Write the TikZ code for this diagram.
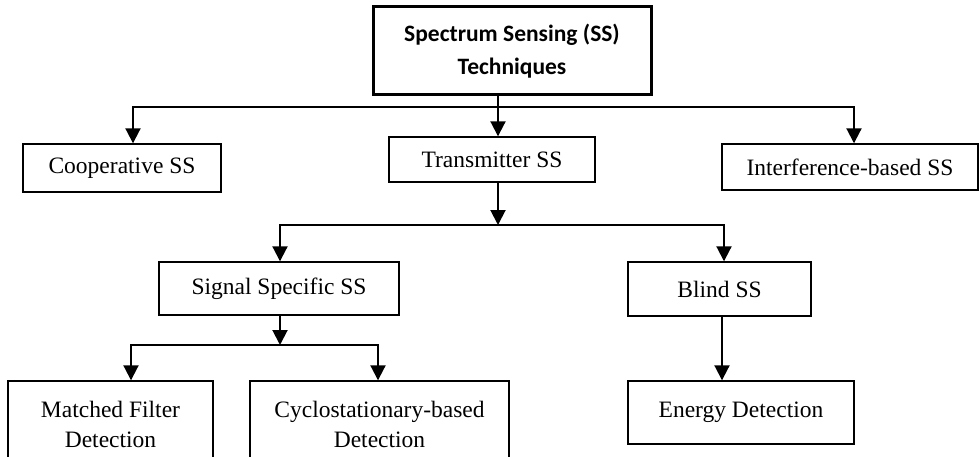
\documentclass[tikz,border=0pt]{standalone}
\usepackage{fontspec}
\setmainfont{Liberation Serif}
\newfontfamily\calfont{Carlito}
\usetikzlibrary{arrows.meta}
\tikzset{
  box/.style={draw, line width=1.4pt, inner sep=0pt, align=center, font=\fontsize{23.5}{30}\selectfont},
  topbox/.style={draw, line width=3pt, inner sep=0pt, align=center, font=\calfont\bfseries\fontsize{23.5}{33}\selectfont},
  arr/.style={line width=2pt, -{Triangle[length=15pt,width=15pt]}},
}
\begin{document}
\begin{tikzpicture}[x=1pt,y=-1pt]
\clip (0,0) rectangle (979,457);
\useasboundingbox (0,0) rectangle (979,457);
% nodes
\node[topbox, minimum width=278pt, minimum height=88pt] (top) at (512,51) {Spectrum Sensing (SS)\\Techniques};
\node[box, minimum width=198pt, minimum height=48pt] (coop) at (122,168) {Cooperative SS};
\node[box, minimum width=206pt, minimum height=45pt] (tr) at (492,159.5) {Transmitter SS};
\node[box, minimum width=256pt, minimum height=46pt] (intf) at (850,167) {Interference-based SS};
\node[box, minimum width=240pt, minimum height=53pt] (sig) at (279,288.5) {Signal Specific SS};
\node[box, minimum width=183pt, minimum height=54pt] (blind) at (719.5,289) {Blind SS};
\node[box, minimum width=205pt, minimum height=86pt] (mf) at (110.5,424) {Matched Filter\\Detection};
\node[box, minimum width=259pt, minimum height=86pt] (cyc) at (379.5,424) {Cyclostationary-based\\Detection};
\node[box, minimum width=226pt, minimum height=63pt] (en) at (741,412.5) {Energy Detection};
% coordinates
\coordinate (x1) at (498,107);
\coordinate (bl) at (133,107);
\coordinate (br) at (854,107);
\coordinate (m2) at (498,225);
\coordinate (l2) at (280,225);
\coordinate (r2) at (724,225);
\coordinate (x3) at (722,0);
\coordinate (m3) at (280,345);
\coordinate (l3) at (131,345);
\coordinate (r3) at (378,345);
% connectors level 1
\draw[arr] (top.south -| x1) -- (tr.north -| x1);
\draw[arr] (br) -- (bl) -- (coop.north -| bl);
\draw[arr] (bl) -- (br) -- (intf.north -| br);
% level 2
\draw[arr] (tr.south -| m2) -- (m2);
\draw[arr] (r2) -- (l2) -- (sig.north -| l2);
\draw[arr] (l2) -- (r2) -- (blind.north -| r2);
\draw[arr] (blind.south -| x3) -- (en.north -| x3);
% level 3
\draw[arr] (sig.south -| m3) -- (m3);
\draw[arr] (r3) -- (l3) -- (mf.north -| l3);
\draw[arr] (l3) -- (r3) -- (cyc.north -| r3);
\end{tikzpicture}
\end{document}
